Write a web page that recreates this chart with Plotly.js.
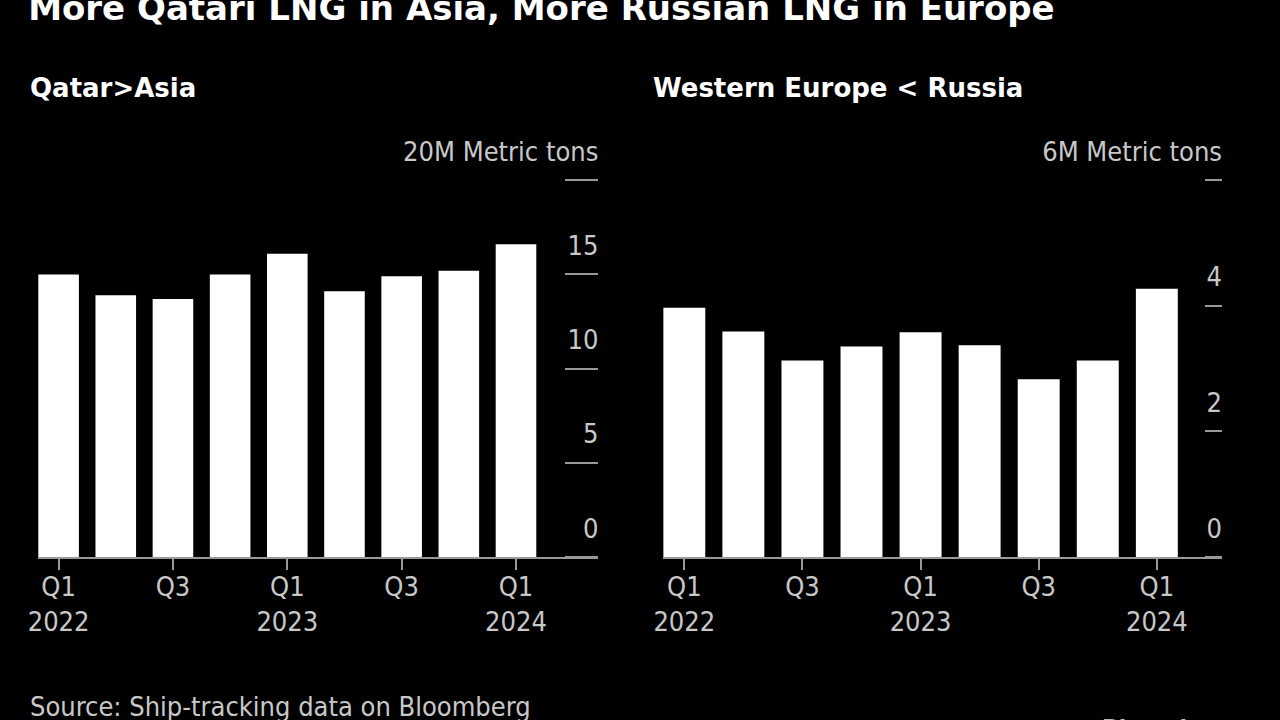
<!DOCTYPE html>
<html>
<head>
<meta charset="utf-8">
<script src="https://cdn.plot.ly/plotly-3.0.1.min.js"></script>
<style>
  html, body { margin: 0; padding: 0; background: #000; }
  #chart { width: 1280px; height: 720px; }
</style>
</head>
<body>
<div id="chart"></div>
<script>
// Quarterly LNG flows, million metric tons
const quarters = ['Q1 2022', 'Q2 2022', 'Q3 2022', 'Q4 2022', 'Q1 2023', 'Q2 2023', 'Q3 2023', 'Q4 2023', 'Q1 2024'];
const qatarToAsia = [15.0, 13.9, 13.7, 15.0, 16.1, 14.1, 14.9, 15.2, 16.6];
const russiaToWesternEurope = [3.97, 3.59, 3.13, 3.35, 3.58, 3.37, 2.83, 3.13, 4.27];

const xTickVals = ['Q1 2022', 'Q3 2022', 'Q1 2023', 'Q3 2023', 'Q1 2024'];
const xTickText = ['Q1<br>2022', 'Q3', 'Q1<br>2023', 'Q3', 'Q1<br>2024'];
const leftTickVals = [0, 5, 10, 15, 20];
const leftTickText = ['0', '5', '10', '15', '20M Metric tons'];
const rightTickVals = [0, 2, 4, 6];
const rightTickText = ['0', '2', '4', '6M Metric tons'];

const labelFont = { family: 'DejaVu Sans Condensed, DejaVu Sans', size: 27, color: '#c8c8c8' };
const boldFont = { family: 'DejaVu Sans, sans-serif', size: 26, color: '#ffffff' };

const data = [
  {
    x: quarters, y: qatarToAsia, type: 'bar', xaxis: 'x', yaxis: 'y',
    marker: { color: '#ffffff' }
  },
  {
    x: quarters, y: russiaToWesternEurope, type: 'bar', xaxis: 'x2', yaxis: 'y2',
    marker: { color: '#ffffff' }
  }
];

function xAxis(anchor, domain, range) {
  return {
    anchor: anchor,
    domain: domain,
    type: 'category',
    range: range,
    tickvals: xTickVals,
    ticktext: xTickText,
    ticks: 'outside',
    ticklen: 11,
    tickwidth: 2,
    tickcolor: '#999999',
    ticklabelstandoff: -6,
    showline: true,
    linecolor: '#999999',
    linewidth: 2,
    showgrid: false,
    tickfont: labelFont
  };
}

// value axis sits on the right edge of each panel; ticks and labels point left into the panel
function yAxis(pos, range, vals, text, len, standoff) {
  return {
    domain: [0.2264, 0.8125],
    anchor: 'free',
    position: pos,
    side: 'left',
    range: range,
    tickvals: vals,
    ticktext: text,
    ticks: 'outside',
    ticklen: len,
    tickwidth: 2,
    tickcolor: '#999999',
    ticklabelposition: 'outside top',
    ticklabelstandoff: standoff,
    ticklabelshift: -9,
    showline: false,
    showgrid: false,
    zeroline: false,
    tickfont: labelFont
  };
}

const leftDomain = [0.0297, 0.467];
const rightDomain = [0.518, 0.955];

const layout = {
  width: 1280,
  height: 720,
  paper_bgcolor: '#000000',
  plot_bgcolor: '#000000',
  margin: { l: 0, r: 0, t: 0, b: 0 },
  showlegend: false,
  bargap: 0.29,
  title: {
    text: '<b>More Qatari LNG in Asia, More Russian LNG in Europe</b>',
    font: { family: 'DejaVu Sans, sans-serif', size: 34, color: '#ffffff' },
    x: 0.022, xanchor: 'left',
    y: 0.972, yanchor: 'bottom'
  },
  xaxis: xAxis('y', leftDomain, [-0.36, 9.43]),
  yaxis: yAxis(leftDomain[1], [0, 22.4], leftTickVals, leftTickText, 33, -6),
  xaxis2: xAxis('y2', rightDomain, [-0.36, 9.11]),
  yaxis2: yAxis(rightDomain[1], [0, 6.72], rightTickVals, rightTickText, 17, -5),
  annotations: [
    {
      text: '<b>Qatar>Asia</b>', xref: 'paper', yref: 'paper',
      x: 0.0219, y: 0.878, xanchor: 'left', yanchor: 'middle',
      showarrow: false, font: boldFont
    },
    {
      text: '<b>Western Europe < Russia</b>', xref: 'paper', yref: 'paper',
      x: 0.5086, y: 0.878, xanchor: 'left', yanchor: 'middle',
      showarrow: false, font: boldFont
    },
    {
      text: 'Source: Ship-tracking data on Bloomberg', xref: 'paper', yref: 'paper',
      x: 0.0219, y: 0.019, xanchor: 'left', yanchor: 'middle',
      showarrow: false, font: labelFont
    },
    {
      text: '<b>Bloomberg</b>', xref: 'paper', yref: 'paper',
      x: 0.859, y: 0.01, xanchor: 'left', yanchor: 'top',
      showarrow: false, font: { family: 'DejaVu Sans, sans-serif', size: 22, color: '#bbbbbb' }
    }
  ]
};

Plotly.newPlot('chart', data, layout, { displayModeBar: false, staticPlot: true });
</script>
</body>
</html>
